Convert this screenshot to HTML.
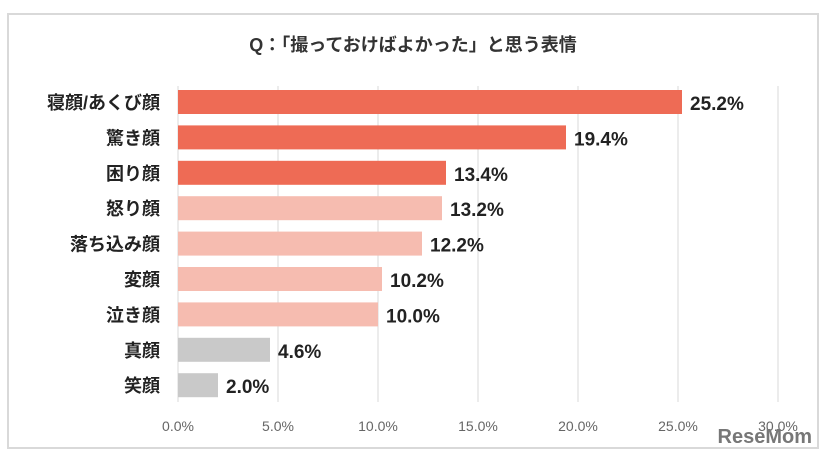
<!DOCTYPE html>
<html><head><meta charset="utf-8"><style>
body{margin:0;background:#fff;width:828px;height:456px;overflow:hidden;font-family:"Liberation Sans","Noto Sans CJK JP",sans-serif}
</style></head><body>
<svg id="c" width="828" height="456">
<rect x="8" y="14" width="810" height="434" fill="#fff" stroke="#d9d9d9" stroke-width="2"/>
<text x="413" y="51" text-anchor="middle" font-size="18" font-weight="bold" fill="#333">Q：「撮っておけばよかった」と思う表情</text>
<g id="grid"></g><g id="bars"></g>
<text x="812" y="443" text-anchor="end" font-size="20" font-weight="bold" fill="#777">ReseMom</text>
</svg>
<script>
const categories=["寝顔/あくび顔","驚き顔","困り顔","怒り顔","落ち込み顔","変顔","泣き顔","真顔","笑顔"];
const values=[25.2,19.4,13.4,13.2,12.2,10.2,10.0,4.6,2.0];
const tiers=[0,0,0,1,1,1,1,2,2];
const ticks=[0,5,10,15,20,25,30];
const colors=["#ee6b55","#f6bcb0","#c9c9c9"];
const NS="http://www.w3.org/2000/svg";
const x=v=>178+v*20;
const y=i=>102+i*35.4;
function mk(t,a,p){const e=document.createElementNS(NS,t);for(const k in a)e.setAttribute(k,a[k]);p.appendChild(e);return e;}
const g=document.getElementById("grid"),b=document.getElementById("bars");
ticks.forEach(t=>{
 const l=mk("line",{x1:x(t),x2:x(t),y1:86,y2:402,stroke:"#d9d9d9","stroke-width":1},g);
 
 
 const tx=mk("text",{x:x(t),y:431,"text-anchor":"middle","font-size":14,fill:"#666"},g);
 tx.textContent=t.toFixed(1)+"%";
 
 
});
categories.forEach((c,i)=>{
 const r=mk("rect",{x:x(0),y:y(i)-12,width:x(values[i])-x(0),height:24,fill:colors[tiers[i]]},b);
 
 
 const lb=mk("text",{x:160,y:y(i)+7,"text-anchor":"end","font-size":18,"font-weight":"bold",fill:"#222"},b);
 lb.textContent=c;
 
 
 const v=mk("text",{x:x(values[i])+8,y:y(i)+8,"font-size":19,"font-weight":"bold",fill:"#222"},b);
 v.textContent=values[i].toFixed(1)+"%";
 
 
});
</script>
</body></html>
